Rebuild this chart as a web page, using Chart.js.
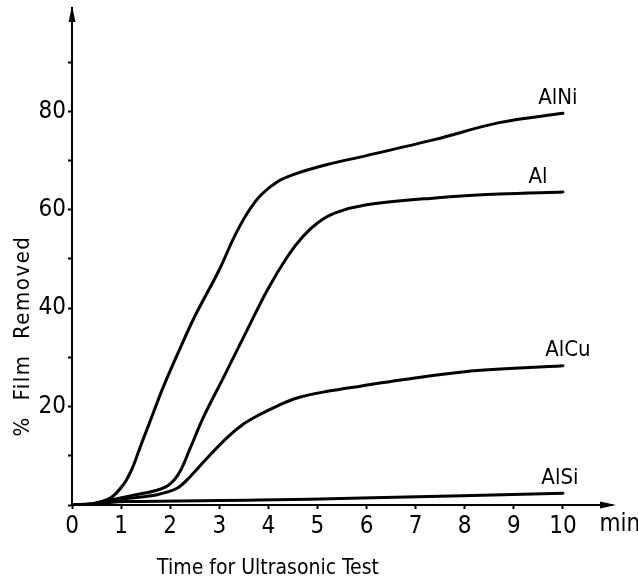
<!DOCTYPE html>
<html>
<head>
<meta charset="utf-8">
<script src="https://cdn.jsdelivr.net/npm/chart.js@4.4.0/dist/chart.umd.min.js"></script>
<style>
  html, body { margin: 0; padding: 0; background: #fff; }
  #wrap { width: 638px; height: 583px; position: relative; }
</style>
</head>
<body>
<div id="wrap"><canvas id="c" width="638" height="583"></canvas></div>
<script>
// ---- data ----
const seriesNames = ['AlNi', 'Al', 'AlCu', 'AlSi'];

const alniX = [0, 0.35, 0.78, 1.05, 1.22, 1.39, 1.59, 1.86, 2.2, 2.5, 3.0, 3.3, 3.57, 3.85, 4.2, 4.55, 5.2, 6.0, 7.4, 8.7, 10];
const alniY = [0, 0.1, 1.4, 4.2, 7.3, 11.8, 17.0, 24.0, 31.8, 38.3, 47.8, 54.4, 59.3, 63.0, 65.8, 67.3, 69.2, 71.0, 74.3, 77.7, 79.6];

const alX = [0, 0.4, 0.8, 1.25, 1.73, 2.0, 2.2, 2.41, 2.68, 3.09, 3.57, 3.98, 4.39, 4.7, 5.0, 5.35, 6.0, 7.4, 8.7, 10];
const alY = [0, 0.2, 1.0, 2.0, 3.0, 4.3, 6.8, 11.6, 17.9, 26.0, 35.6, 43.7, 50.5, 54.5, 57.3, 59.3, 61.0, 62.4, 63.2, 63.6];

const alcuX = [0, 0.4, 1.1, 1.73, 2.14, 2.41, 2.75, 3.16, 3.5, 3.81, 4.2, 4.6, 5.2, 5.9, 6.7, 8.0, 10];
const alcuY = [0, 0.2, 1.3, 2.1, 3.4, 5.8, 9.5, 13.7, 16.5, 18.3, 20.2, 21.8, 23.1, 24.2, 25.4, 27.1, 28.3];

const alsiX = [0, 0.5, 1.1, 3.8, 5.9, 10];
const alsiY = [0, 0.3, 0.7, 1.0, 1.4, 2.4];

const xTickValues = [0, 1, 2, 3, 4, 5, 6, 7, 8, 9, 10];
const yTickValues = [0, 10, 20, 30, 40, 50, 60, 70, 80, 90];
const yLabeledTicks = [20, 40, 60, 80];

const xAxisTitle = 'Time for Ultrasonic Test';
const yAxisTitle = '%  Film  Removed';
const xUnit = 'min';

// ---- build ----
function pts(xs, ys) { return xs.map((x, i) => ({ x: x, y: ys[i] })); }
const seriesData = [pts(alniX, alniY), pts(alX, alY), pts(alcuX, alcuY), pts(alsiX, alsiY)];

const FONT = '"DejaVu Sans Condensed", "Liberation Sans Narrow", "Liberation Sans", Arial, sans-serif';

const labelOffsets = [[-5, -15], [-25, -15], [5, -15], [-3, -15]];

const decorPlugin = {
  id: 'decor',
  afterDraw(chart) {
    const ctx = chart.ctx;
    const xs = chart.scales.x, ys = chart.scales.y;
    const ca = chart.chartArea;
    ctx.save();
    ctx.fillStyle = '#000';
    const y0 = ys.getPixelForValue(0);
    // arrowheads
    ctx.beginPath();
    ctx.moveTo(ca.left, ca.top - 2);
    ctx.lineTo(ca.left - 3.5, ca.top + 14);
    ctx.lineTo(ca.left + 3.5, ca.top + 14);
    ctx.closePath();
    ctx.fill();
    ctx.beginPath();
    ctx.moveTo(ca.right + 4, y0);
    ctx.lineTo(ca.right - 12, y0 - 3.5);
    ctx.lineTo(ca.right - 12, y0 + 3.5);
    ctx.closePath();
    ctx.fill();
    // curve labels
    ctx.font = '22px ' + FONT;
    ctx.textAlign = 'center';
    ctx.textBaseline = 'middle';
    chart.data.datasets.forEach((ds, i) => {
      const last = ds.data[ds.data.length - 1];
      const px = xs.getPixelForValue(last.x) + labelOffsets[i][0];
      const py = ys.getPixelForValue(last.y) + labelOffsets[i][1];
      ctx.fillText(ds.label, px, py);
    });
    // unit
    ctx.font = '24px ' + FONT;
    ctx.fillText(xUnit, xs.getPixelForValue(10) + 57, y0 + 20);
    // axis titles
    ctx.font = '21px ' + FONT;
    ctx.fillText(xAxisTitle, 268, 569);
    ctx.font = '22px ' + FONT;
    try { ctx.letterSpacing = '1.5px'; } catch (e) {}
    ctx.translate(23, 336);
    ctx.rotate(-Math.PI / 2);
    ctx.fillText(yAxisTitle, 0, 0);
    ctx.restore();
  }
};

new Chart(document.getElementById('c'), {
  type: 'line',
  data: {
    datasets: seriesNames.map((n, i) => ({
      label: n,
      data: seriesData[i],
      borderColor: '#000',
      borderWidth: 3,
      pointRadius: 0,
      fill: false,
      tension: 0.35,
      borderCapStyle: 'round'
    }))
  },
  options: {
    responsive: false,
    animation: false,
    layout: { padding: { left: 0, right: 26, top: 8, bottom: 0 } },
    plugins: { legend: { display: false }, tooltip: { enabled: false } },
    scales: {
      x: {
        type: 'linear',
        min: 0, max: 11,
        afterFit(s) { s.height = 78; s.paddingLeft = 0; s.paddingRight = 0; },
        afterBuildTicks(s) { s.ticks = xTickValues.map(v => ({ value: v })); },
        grid: { drawOnChartArea: false, drawTicks: true, tickLength: 4, tickColor: '#000', tickWidth: 2 },
        border: { display: true, color: '#000', width: 2 },
        ticks: { color: '#000', padding: 3, maxRotation: 0, autoSkip: false, font: { family: FONT, size: 24 } }
      },
      y: {
        type: 'linear',
        min: 0, max: 101,
        afterFit(s) { s.width = 72; s.paddingTop = 0; s.paddingBottom = 0; },
        afterBuildTicks(s) { s.ticks = yTickValues.map(v => ({ value: v })); },
        grid: { drawOnChartArea: false, drawTicks: true, tickLength: 4, tickColor: '#000', tickWidth: 2 },
        border: { display: true, color: '#000', width: 2 },
        ticks: {
          color: '#000', padding: 2, autoSkip: false,
          font: { family: FONT, size: 24 },
          callback: (v) => yLabeledTicks.includes(v) ? String(v) : ''
        }
      }
    }
  },
  plugins: [decorPlugin]
});
</script>
</body>
</html>
